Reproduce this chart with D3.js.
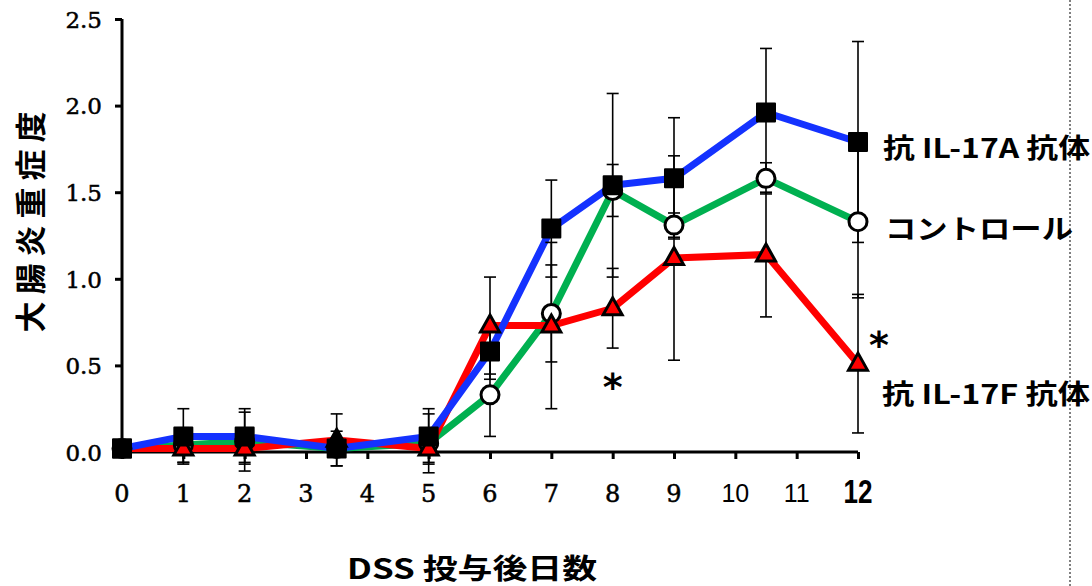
<!DOCTYPE html>
<html>
<head>
<meta charset="utf-8">
<script src="https://cdn.jsdelivr.net/npm/d3@7/dist/d3.min.js"></script>
<style>
  html, body { margin: 0; padding: 0; background: #fff; }
  svg { display: block; }
</style>
</head>
<body>
<svg id="chart" width="1092" height="586"></svg>
<script>
// ---------- data ----------
const days = [0, 1, 2, 3.5, 5, 6, 7, 8, 9, 10.5, 12];

const il17aMean = [0.02, 0.09, 0.09, 0.02, 0.09, 0.58, 1.29, 1.54, 1.58, 1.96, 1.79];
const il17aErr  = [0.00, 0.16, 0.16, 0.00, 0.16, 0.16, 0.28, 0.53, 0.35, 0.37, 0.58];

const controlMean = [0.02, 0.04, 0.06, 0.02, 0.05, 0.33, 0.80, 1.51, 1.31, 1.58, 1.33];
const controlErr  = [0.00, 0.10, 0.17, 0.10, 0.17, 0.24, 0.28, 0.15, 0.07, 0.09, 0.44];

const il17fMean = [0.02, 0.02, 0.02, 0.07, 0.02, 0.73, 0.73, 0.83, 1.12, 1.14, 0.51];
const il17fErr  = [0.00, 0.08, 0.08, 0.15, 0.08, 0.28, 0.48, 0.23, 0.59, 0.36, 0.40];

const seriesNames = ["抗 IL-17A 抗体", "コントロール", "抗 IL-17F 抗体"];
const xTickValues = [0, 1, 2, 3, 4, 5, 6, 7, 8, 9, 10, 11, 12];
const yTickValues = [0, 0.5, 1.0, 1.5, 2.0, 2.5];
const yTitle = "大腸炎重症度";
const xTitle = "DSS 投与後日数";
const significantDays = [8, 12];

// ---------- setup ----------
const svg = d3.select("#chart");
const x = d3.scaleLinear().domain([0, 12]).range([122, 858]);
const y = d3.scaleLinear().domain([0, 2.5]).range([452, 19]);

const mk = (mean, err) => days.map((d, i) => ({ day: d, v: mean[i], e: err[i] }));
const series = [
  { key: "control", name: seriesNames[1], data: mk(controlMean, controlErr), color: "#00b050", marker: "circle" },
  { key: "il17f",   name: seriesNames[2], data: mk(il17fMean, il17fErr),     color: "#ff0000", marker: "triangle" },
  { key: "il17a",   name: seriesNames[0], data: mk(il17aMean, il17aErr),     color: "#1432ff", marker: "square" }
];

// ---------- axes ----------
const yAxis = d3.axisLeft(y).tickValues(yTickValues).tickSize(7).tickPadding(13)
  .tickFormat(d3.format(".1f"));
const gy = svg.append("g").attr("transform", "translate(122,0)").call(yAxis);
gy.select(".domain").attr("stroke", "#000").attr("stroke-width", 3).attr("d", `M0,${y(2.5)}V${y(0)}`);
gy.selectAll(".tick line").attr("stroke", "#000").attr("stroke-width", 3);
gy.selectAll(".tick text").attr("font-family", "'DejaVu Serif', serif").attr("font-size", 23)
  .attr("fill", "#000").attr("stroke", "#000").attr("stroke-width", 0.5).attr("dy", "0.36em");

const xAxis = d3.axisBottom(x).tickValues(xTickValues).tickSize(7).tickFormat("");
const gx = svg.append("g").attr("transform", `translate(0,${y(0)})`).call(xAxis);
gx.select(".domain").attr("stroke", "#000").attr("stroke-width", 3).attr("d", `M${x(0)},0H${x(12)}`);
gx.selectAll(".tick line").attr("stroke", "#000").attr("stroke-width", 3);

// x tick labels (mixed styles as in the original)
svg.append("g").selectAll("text").data(xTickValues).join("text")
  .attr("x", d => x(d))
  .attr("y", d => d === 12 ? 503 : 502)
  .attr("text-anchor", "middle")
  .attr("font-family", d => d < 10 ? "'DejaVu Serif', serif" : "'Liberation Sans', Arial, sans-serif")
  .attr("font-weight", d => d === 12 ? "bold" : "normal")
  .attr("font-size", d => d === 12 ? 33 : (d < 10 ? 24 : 25))
  .attr("fill", "#000")
  .attr("stroke", d => d < 10 ? "#000" : "none")
  .attr("stroke-width", 0.5)
  .each(function(d) { if (d === 12) d3.select(this).attr("textLength", 29).attr("lengthAdjust", "spacingAndGlyphs"); })
  .text(d => d);

// ---------- lines ----------
const line = d3.line().x(d => x(d.day)).y(d => y(d.v));
svg.append("g").selectAll("path").data(series).join("path")
  .attr("d", s => line(s.data))
  .attr("fill", "none")
  .attr("stroke", s => s.color)
  .attr("stroke-width", 7)
  .attr("stroke-linejoin", "round");

// ---------- error bars ----------
const eb = svg.append("g").attr("stroke", "#000").attr("stroke-width", 1.6);
series.forEach(s => {
  s.data.filter(d => d.e > 0).forEach(d => {
    const cx = x(d.day), top = y(d.v + d.e), bot = y(d.v - d.e);
    eb.append("line").attr("x1", cx).attr("x2", cx).attr("y1", top).attr("y2", bot);
    eb.append("line").attr("x1", cx - 6).attr("x2", cx + 6).attr("y1", top).attr("y2", top);
    eb.append("line").attr("x1", cx - 6).attr("x2", cx + 6).attr("y1", bot).attr("y2", bot);
  });
});

// ---------- markers ----------
const mg = svg.append("g");
series.forEach(s => {
  s.data.forEach(d => {
    const cx = x(d.day), cy = y(d.v);
    const special = d.day === 3.5;
    let shape = s.marker;
    if (s.key === "il17f" && d.day === 0) shape = "square";
    if (shape === "circle") {
      mg.append("circle").attr("cx", cx).attr("cy", cy).attr("r", 9)
        .attr("fill", special ? "#000" : "#fff").attr("stroke", "#000").attr("stroke-width", 3);
    } else if (shape === "square") {
      mg.append("rect").attr("x", cx - 9).attr("y", cy - 9).attr("width", 18).attr("height", 18)
        .attr("fill", s.key === "il17f" ? s.color : "#000")
        .attr("stroke", "#000").attr("stroke-width", 2).attr("stroke-linejoin", "round");
    } else {
      const h = 17, w = 19;
      mg.append("path")
        .attr("d", `M${cx},${cy - h * 0.62}L${cx + w / 2},${cy + h * 0.38}L${cx - w / 2},${cy + h * 0.38}Z`)
        .attr("fill", special ? "#000" : s.color).attr("stroke", "#000").attr("stroke-width", 3)
        .attr("stroke-linejoin", "miter");
    }
  });
});

// ---------- significance asterisks ----------
svg.append("g").selectAll("text").data(significantDays).join("text")
  .attr("x", d => d === 8 ? x(d) : x(d) + 21)
  .attr("y", d => d === 8 ? 400 : 358)
  .attr("text-anchor", "middle")
  .attr("font-family", "'DejaVu Sans', sans-serif")
  .attr("font-weight", "bold")
  .attr("font-size", 38)
  .attr("fill", "#000")
  .text("*");

// ---------- series labels ----------
const labelPos = { il17a: { x: 883, y: 146, w: 207 }, control: { x: 885, y: 227, w: 188 }, il17f: { x: 882, y: 392, w: 208 } };
svg.append("g").selectAll("text").data(series).join("text")
  .attr("x", s => labelPos[s.key].x)
  .attr("y", s => labelPos[s.key].y)
  .attr("dominant-baseline", "central")
  .attr("font-family", "'Noto Sans CJK JP', sans-serif")
  .attr("font-weight", "bold")
  .attr("font-size", 27)
  .attr("fill", "#000")
  .attr("textLength", s => labelPos[s.key].w)
  .attr("lengthAdjust", "spacingAndGlyphs")
  .text(s => s.name);

// ---------- axis titles ----------
svg.append("text")
  .attr("transform", "translate(28,222) rotate(-90)")
  .attr("text-anchor", "middle")
  .attr("dominant-baseline", "central")
  .attr("font-family", "'Noto Sans CJK JP', sans-serif")
  .attr("font-weight", "bold")
  .attr("font-size", 31)
  .attr("textLength", 221)
  .attr("lengthAdjust", "spacing")
  .attr("fill", "#000")
  .text(yTitle);

svg.append("text")
  .attr("x", 472).attr("y", 567)
  .attr("text-anchor", "middle")
  .attr("dominant-baseline", "central")
  .attr("font-family", "'Noto Sans CJK JP', sans-serif")
  .attr("font-weight", "bold")
  .attr("font-size", 28)
  .attr("textLength", 250)
  .attr("lengthAdjust", "spacingAndGlyphs")
  .attr("fill", "#000")
  .text(xTitle);

// ---------- dotted frame line at right ----------
svg.append("line")
  .attr("x1", 1070).attr("x2", 1070).attr("y1", 0).attr("y2", 586)
  .attr("stroke", "#000").attr("stroke-width", 1).attr("stroke-dasharray", "2,2");
</script>
</body>
</html>
